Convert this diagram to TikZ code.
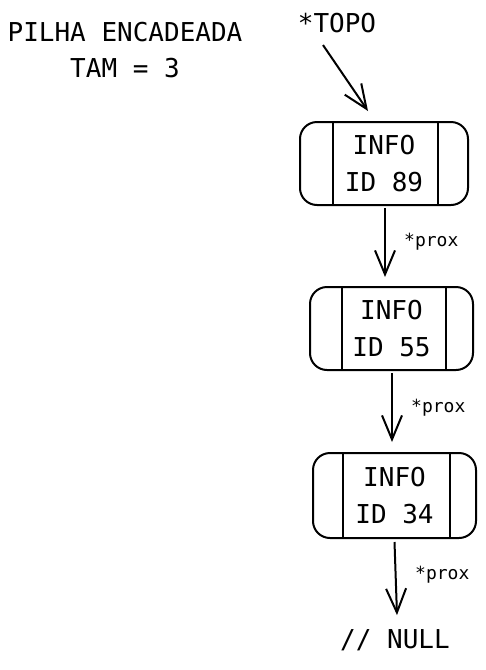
\documentclass[tikz,border=0pt]{standalone}
\usepackage{fontspec}
\newfontfamily\hand{DejaVu Sans Mono}
\usetikzlibrary{arrows.meta,calc}
\tikzset{
  box/.style={draw, line width=2pt, rounded corners=17pt, align=center,
    font=\hand\fontsize{26}{37}\selectfont, inner sep=0pt},
  divider/.style={line width=2pt},
  arr/.style={line width=2pt, -{Straight Barb[length=24pt,width=20pt,line width=2pt]}},
  big/.style={font=\hand\fontsize{26}{36}\selectfont, align=center, inner sep=0pt},
  small/.style={font=\hand\fontsize{18}{18}\selectfont, inner sep=0pt, anchor=west},
}
\begin{document}
\begin{tikzpicture}[x=1pt,y=-1pt]
\useasboundingbox (0,0) rectangle (486,670);
\node[big] (title) at (125,50) {PILHA ENCADEADA\\TAM = 3};
\node[big] (topo) at (337,23) {*TOPO};

\node[box, minimum width=168pt, minimum height=83pt] (b1) at (384,163.5) {INFO\\ID 89};
\node[box, minimum width=163pt, minimum height=83pt] (b2) at (391.5,328.5) {INFO\\ID 55};
\node[box, minimum width=163pt, minimum height=85pt] (b3) at (394.5,495.5) {INFO\\ID 34};

\draw[divider] ($(b1.north west)+(34,0)$) -- ($(b1.south west)+(34,0)$);
\draw[divider] ($(b1.north east)+(-31,0)$) -- ($(b1.south east)+(-31,0)$);
\draw[divider] ($(b2.north west)+(33,0)$) -- ($(b2.south west)+(33,0)$);
\draw[divider] ($(b2.north east)+(-28,0)$) -- ($(b2.south east)+(-28,0)$);
\draw[divider] ($(b3.north west)+(31,0)$) -- ($(b3.south west)+(31,0)$);
\draw[divider] ($(b3.north east)+(-27,0)$) -- ($(b3.south east)+(-27,0)$);

\node[big] (null) at (395,640) {// NULL};

\draw[arr] ($(topo.south)+(-14,12)$) -- ($(b1.north)+(-16,-10)$);
\draw[arr] ($(b1.south)+(1,2)$) -- ($(b1.south |- b2.north)+(1,-9)$);
\draw[arr] ($(b2.south)+(0.5,2)$) -- ($(b2.south |- b3.north)+(0.5,-10)$);
\draw[arr] ($(b3.south)+(0,3)$) -- ($(null.north)+(2,-14)$);

\node[small] (p1) at (404,242) {*prox};
\node[small] (p2) at (411,408) {*prox};
\node[small] (p3) at (415,575) {*prox};
\end{tikzpicture}
\end{document}
